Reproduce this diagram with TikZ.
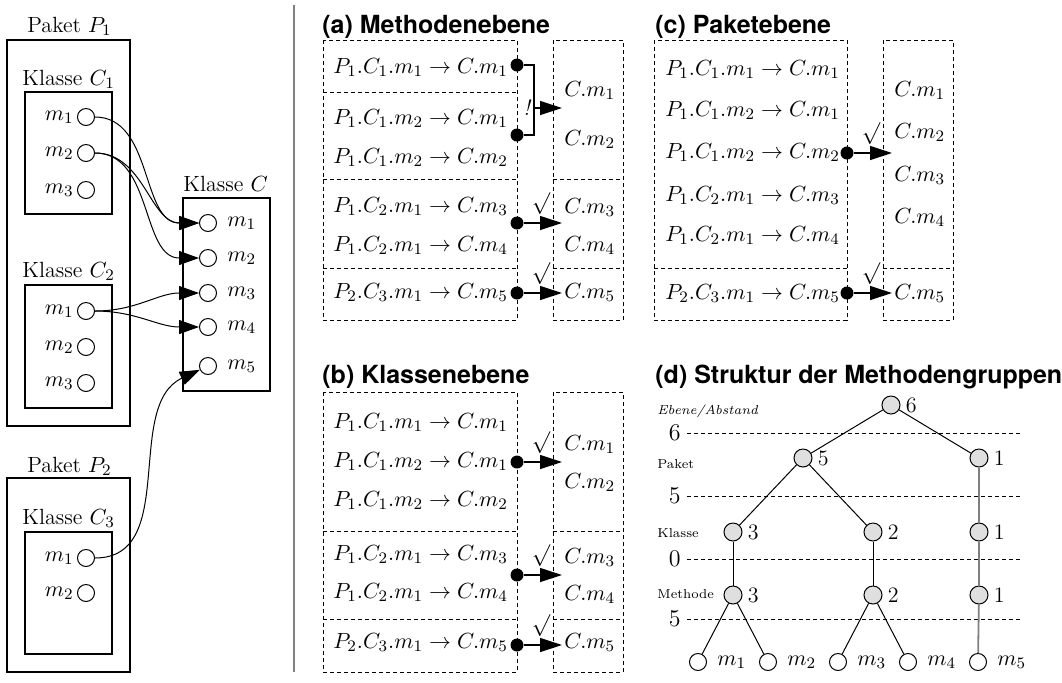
\documentclass[tikz,border=0pt]{standalone}
\usepackage{amsmath,amssymb}
\usepackage{fontspec}
\newfontfamily\headfont{TeX Gyre Heros}
\usetikzlibrary{positioning,arrows.meta}

% one call from P_i.C_j.m_k to a method of C
\newcommand{\callrow}[4]{$P_{#1}.C_{#2}.m_{#3} \to C.m_{#4}$}
\newcommand{\target}[1]{$C.m_{#1}$}

\begin{document}
\begin{tikzpicture}[
    x=0.5pt, y=-0.5pt,
    font=\fontsize{11}{13}\selectfont,
    every label/.style={inner sep=0pt},
    box/.style={draw, line width=0.6pt},
    grp/.style={draw, line width=0.5pt, dash pattern=on 2pt off 1.5pt},
    meth/.style={circle, draw, line width=0.5pt, fill=white, minimum size=8.5pt, inner sep=0pt},
    knot/.style={circle, draw, line width=0.5pt, fill=gray!25, minimum size=9pt, inner sep=0pt},
    lm/.style={label={[xshift=-1.5pt]left:$m_{#1}$}},
    rm/.style={label={[xshift=5pt]right:$m_{#1}$}},
    num/.style={label={[xshift=2.5pt]right:#1}},
    dot/.style={circle, fill=black, minimum size=6.5pt, inner sep=0pt},
    callarrow/.style={-{Triangle[length=10pt,width=7pt]}, line width=0.5pt},
    grparrow/.style={-{Triangle[length=11pt,width=7pt]}, line width=0.6pt},
    ok/.style={above=3pt, pos=0.45, inner sep=1pt},
    txt/.style={anchor=base west, inner sep=0pt},
    heading/.style={txt, font=\headfont\bfseries\fontsize{12.5}{14}\selectfont},
    lvlname/.style={txt, font=\fontsize{6.5}{8}\selectfont},
    lvlnum/.style={anchor=east, inner sep=0pt, font=\fontsize{12}{14}\selectfont},
    branch/.style={line width=0.5pt},
    trunk/.style={line width=0.9pt, gray},
]
\useasboundingbox (0,0) rectangle (1062,682);

% Paket P1 with classes C1, C2
\node[txt] (p1lbl) at (27,32) {Paket $P_1$};
\draw[box] (7,40) rectangle (130,426);
\node[txt] (c1lbl) at (22,85) {Klasse $C_1$};
\draw[box] (25,92) rectangle (112,214);
\node[meth, lm=1] (c1m1) at (86,117) {};
\node[meth, lm=2] (c1m2) at (86,153) {};
\node[meth, lm=3] (c1m3) at (86,190) {};
\node[txt] (c2lbl) at (22,277) {Klasse $C_2$};
\draw[box] (25,285) rectangle (112,408);
\node[meth, lm=1] (c2m1) at (86,311) {};
\node[meth, lm=2] (c2m2) at (86,347) {};
\node[meth, lm=3] (c2m3) at (86,383) {};

% Paket P2 with class C3
\node[txt] (p2lbl) at (27,472) {Paket $P_2$};
\draw[box] (7,478) rectangle (130,672);
\node[txt] (c3lbl) at (22,524) {Klasse $C_3$};
\draw[box] (25,532) rectangle (112,654);
\node[meth, lm=1] (c3m1) at (86,558) {};
\node[meth, lm=2] (c3m2) at (86,593) {};

% called class C
\node[txt] (clbl) at (183,191) {Klasse $C$};
\draw[box] (183,198) rectangle (270,391);
\node[meth, rm=1] (cm1) at (208,223) {};
\node[meth, rm=2] (cm2) at (208,258) {};
\node[meth, rm=3] (cm3) at (208,293) {};
\node[meth, rm=4] (cm4) at (208,327) {};
\node[meth, rm=5] (cm5) at (208,366) {};

% calls
\draw[callarrow] (c1m1) to[out=0, in=180] (cm1);
\draw[callarrow] (c1m2) to[out=0, in=180] (cm1);
\draw[callarrow] (c1m2) to[out=0, in=180] (cm2);
\draw[callarrow] (c2m1) to[out=0, in=180] (cm3);
\draw[callarrow] (c2m1) to[out=0, in=180] (cm4);
\draw[callarrow] (c3m1) to[out=0, in=205] (cm5);

\draw[line width=1pt, gray] (294,5) -- (294,672);

% (a) method level
\node[heading] (ha) at (322,33) {(a) Methodenebene};
\draw[grp] (323,40) rectangle (517,320);
\draw[grp] (553,40) rectangle (623,320);
\foreach \y in {92,179,268} \draw[grp] (323,\y) -- (517,\y);
\foreach \y in {179,268} \draw[grp] (553,\y) -- (623,\y);
\node[txt] (a1) at (333,73) {\callrow{1}{1}{1}{1}};
\node[txt] (a2) at (333,124) {\callrow{1}{1}{2}{1}};
\node[txt] (a3) at (333,163) {\callrow{1}{1}{2}{2}};
\node[txt] (a4) at (333,212) {\callrow{1}{2}{1}{3}};
\node[txt] (a5) at (333,251) {\callrow{1}{2}{1}{4}};
\node[txt] (a6) at (333,298) {\callrow{2}{3}{1}{5}};
\node[txt] (ra1) at (564,96) {\target{1}};
\node[txt] (ra2) at (564,145) {\target{2}};
\node[txt] (ra3) at (564,213) {\target{3}};
\node[txt] (ra4) at (564,251) {\target{4}};
\node[txt] (ra5) at (564,298) {\target{5}};
\node[dot] (da1) at (517,65) {};
\node[dot] (da2) at (517,135) {};
\node[dot] (da3) at (517,223) {};
\node[dot] (da4) at (517,293) {};
\coordinate (ja) at (534,108);
\coordinate (ea1) at (562,108);
\coordinate (ea2) at (562,223);
\coordinate (ea3) at (562,293);
\draw[line width=0.6pt] (da1) -| (ja) |- (da2);
\draw[grparrow] (ja) -- node[pos=0, left=1pt, inner sep=0pt] {\textit{!}} (ea1);
\draw[grparrow] (da3) -- node[ok] {$\surd$} (ea2);
\draw[grparrow] (da4) -- node[ok] {$\surd$} (ea3);

% (b) class level
\node[heading] (hb) at (322,383) {(b) Klassenebene};
\draw[grp] (323,392) rectangle (517,672);
\draw[grp] (553,392) rectangle (623,672);
\foreach \y in {531,619} {
    \draw[grp] (323,\y) -- (517,\y);
    \draw[grp] (553,\y) -- (623,\y);
}
\node[txt] (b1) at (333,428) {\callrow{1}{1}{1}{1}};
\node[txt] (b2) at (333,467) {\callrow{1}{1}{2}{1}};
\node[txt] (b3) at (333,506) {\callrow{1}{1}{2}{2}};
\node[txt] (b4) at (333,560) {\callrow{1}{2}{1}{3}};
\node[txt] (b5) at (333,598) {\callrow{1}{2}{1}{4}};
\node[txt] (b6) at (333,648) {\callrow{2}{3}{1}{5}};
\node[txt] (rb1) at (564,450) {\target{1}};
\node[txt] (rb2) at (564,488) {\target{2}};
\node[txt] (rb3) at (564,563) {\target{3}};
\node[txt] (rb4) at (564,600) {\target{4}};
\node[txt] (rb5) at (564,648) {\target{5}};
\node[dot] (db1) at (517,462) {};
\node[dot] (db2) at (517,575) {};
\node[dot] (db3) at (517,645) {};
\coordinate (eb1) at (562,462);
\coordinate (eb2) at (562,575);
\coordinate (eb3) at (562,645);
\draw[grparrow] (db1) -- node[ok] {$\surd$} (eb1);
\draw[grparrow] (db2) -- node[ok] {$\surd$} (eb2);
\draw[grparrow] (db3) -- node[ok] {$\surd$} (eb3);

% (c) package level
\node[heading] (hc) at (655,33) {(c) Paketebene};
\draw[grp] (654,40) rectangle (847,320);
\draw[grp] (883,40) rectangle (953,320);
\draw[grp] (654,268) -- (847,268);
\draw[grp] (883,268) -- (953,268);
\node[txt] (c1) at (665,75) {\callrow{1}{1}{1}{1}};
\node[txt] (c2) at (665,116) {\callrow{1}{1}{2}{1}};
\node[txt] (c3) at (665,158) {\callrow{1}{1}{2}{2}};
\node[txt] (c4) at (665,201) {\callrow{1}{2}{1}{3}};
\node[txt] (c5) at (665,241) {\callrow{1}{2}{1}{4}};
\node[txt] (c6) at (665,299) {\callrow{2}{3}{1}{5}};
\node[txt] (rc1) at (894,96) {\target{1}};
\node[txt] (rc2) at (894,138) {\target{2}};
\node[txt] (rc3) at (894,181) {\target{3}};
\node[txt] (rc4) at (894,223) {\target{4}};
\node[txt] (rc5) at (894,299) {\target{5}};
\node[dot] (dc1) at (847,153) {};
\node[dot] (dc2) at (847,293) {};
\coordinate (ec1) at (892,153);
\coordinate (ec2) at (892,293);
\draw[grparrow] (dc1) -- node[ok] {$\surd$} (ec1);
\draw[grparrow] (dc2) -- node[ok] {$\surd$} (ec2);

% (d) group tree
\node[heading] (hd) at (655,383) {(d) Struktur der Methodengruppen};
\foreach \y/\d in {433/6,496/5,559/0,619/5} {
    \node[lvlnum] at (681,\y) {\d};
    \draw[grp] (687,\y) -- (1023,\y);
}
\node[lvlname, font=\fontsize{6.5}{8}\selectfont\itshape] (lv0) at (657,414) {Ebene/Abstand};
\node[lvlname] (lv1) at (657,468) {Paket};
\node[lvlname] (lv2) at (657,537) {Klasse};
\node[lvlname] (lv3) at (657,598) {Methode};

\node[knot, num=6] (root) at (891,405) {};
\node[knot, num=5] (pk1) at (803,458) {};
\node[knot, num=1] (pk2) at (979,458) {};
\node[knot, num=3] (kl1) at (733,532) {};
\node[knot, num=2] (kl2) at (873,532) {};
\node[knot, num=1] (kl3) at (979,532) {};
\node[knot, num=3] (me1) at (733,595) {};
\node[knot, num=2] (me2) at (873,595) {};
\node[knot, num=1] (me3) at (979,595) {};
\node[meth, rm=1] (lf1) at (698,662) {};
\node[meth, rm=2] (lf2) at (768,662) {};
\node[meth, rm=3] (lf3) at (838,662) {};
\node[meth, rm=4] (lf4) at (908,662) {};
\node[meth, rm=5] (lf5) at (978,662) {};

\draw[branch] (root) -- (pk1);
\draw[branch] (root) -- (pk2);
\draw[branch] (pk1) -- (kl1);
\draw[branch] (pk1) -- (kl2);
\draw[branch] (kl1) -- (me1);
\draw[branch] (kl2) -- (me2);
\draw[branch] (me1) -- (lf1);
\draw[branch] (me1) -- (lf2);
\draw[branch] (me2) -- (lf3);
\draw[branch] (me2) -- (lf4);
\draw[trunk] (pk2) -- (kl3);
\draw[trunk] (kl3) -- (me3);
\draw[trunk] (me3) -- (lf5);
\end{tikzpicture}
\end{document}
